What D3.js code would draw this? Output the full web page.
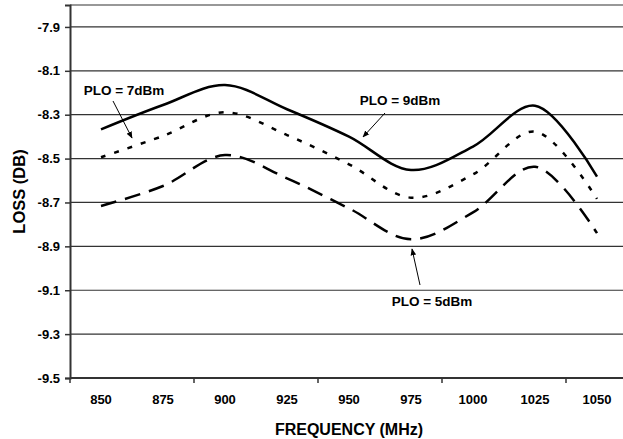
<!DOCTYPE html>
<html>
<head>
<meta charset="utf-8">
<script src="https://cdn.jsdelivr.net/npm/d3@7"></script>
<style>
  body { margin: 0; background: #fff; }
  svg { display: block; }
  text { font-family: "Liberation Sans", Arial, sans-serif; font-weight: bold; fill: #000; }
</style>
</head>
<body>
<div id="grafico"></div>
<script>
// frecuencias (MHz) y pérdidas (dB)
const frecuencias = [850, 875, 900, 925, 950, 975, 1000, 1025, 1050];
const plo9 = [-8.367, -8.256, -8.165, -8.275, -8.40, -8.552, -8.445, -8.259, -8.582];
const plo7 = [-8.494, -8.397, -8.289, -8.393, -8.526, -8.678, -8.572, -8.377, -8.684];
const plo5 = [-8.716, -8.625, -8.484, -8.590, -8.727, -8.868, -8.745, -8.537, -8.840];
const ticksY = [-9.5, -9.3, -9.1, -8.9, -8.7, -8.5, -8.3, -8.1, -7.9];

const ancho = 623, alto = 439;
const izq = 70, der = 628, arriba = 5, abajo = 378;

const $svg = d3.select("#grafico")
    .append("svg")
    .attr("width", ancho)
    .attr("height", alto);

const x = d3.scaleBand()
    .domain(frecuencias)
    .range([izq, der]);
const xIndice = d3.scaleLinear()
    .domain([0, frecuencias.length])
    .range([izq, der]);
const y = d3.scaleLinear()
    .domain([-9.5, -7.8])
    .range([abajo, arriba]);
const centro = f => x(f) + x.bandwidth() / 2;

// rejilla horizontal (incluye el borde superior)
$svg.append("g")
    .selectAll("line")
    .data(ticksY.concat([-7.8]))
    .join("line")
    .attr("x1", izq)
    .attr("x2", der)
    .attr("y1", d => y(d))
    .attr("y2", d => y(d))
    .attr("stroke", "#333")
    .attr("stroke-width", 1.2);

// eje Y
const ejeY = $svg.append("g")
    .attr("transform", `translate(${izq},0)`)
    .call(d3.axisLeft(y).tickValues(ticksY).tickSize(5).tickPadding(5).tickFormat(d => d.toFixed(1)));
ejeY.select(".domain").attr("stroke", "#333").attr("stroke-width", 2);
ejeY.selectAll(".tick line").attr("stroke", "#333").attr("stroke-width", 1.5);
ejeY.selectAll("text").attr("font-size", 13).style("font-family", "Liberation Sans, Arial, sans-serif").style("font-weight", "bold");

// eje X: etiquetas por categoría, marcas cada dos categorías
const ejeX = $svg.append("g")
    .attr("transform", `translate(0,${abajo})`)
    .call(d3.axisBottom(x).tickSize(0).tickPadding(17));
ejeX.select(".domain").remove();
ejeX.selectAll("text").attr("font-size", 13).style("font-family", "Liberation Sans, Arial, sans-serif").style("font-weight", "bold");

$svg.append("line")
    .attr("x1", izq).attr("x2", der)
    .attr("y1", abajo).attr("y2", abajo)
    .attr("stroke", "#333").attr("stroke-width", 2);
$svg.append("g")
    .selectAll("line")
    .data([0, 2, 4, 6, 8])
    .join("line")
    .attr("x1", d => xIndice(d))
    .attr("x2", d => xIndice(d))
    .attr("y1", abajo)
    .attr("y2", abajo + 5)
    .attr("stroke", "#333")
    .attr("stroke-width", 1.5);

// curvas suavizadas
const linea = d3.line()
    .x((d, i) => centro(frecuencias[i]))
    .y(d => y(d))
    .curve(d3.curveCatmullRom.alpha(0.5));

const series = [
    { valores: plo9, guiones: null },
    { valores: plo7, guiones: "5,9" },
    { valores: plo5, guiones: "16,9" }
];
series.forEach(s => {
    $svg.append("path")
        .attr("d", linea(s.valores))
        .attr("fill", "none")
        .attr("stroke", "#000")
        .attr("stroke-width", 2.5)
        .attr("stroke-dasharray", s.guiones);
});

// flechas y etiquetas
$svg.append("defs")
    .append("marker")
    .attr("id", "punta")
    .attr("viewBox", "0 0 10 10")
    .attr("refX", 9)
    .attr("refY", 5)
    .attr("markerWidth", 7)
    .attr("markerHeight", 7)
    .attr("markerUnits", "userSpaceOnUse")
    .attr("orient", "auto")
    .append("path")
    .attr("d", "M0,1 L10,5 L0,9 Z")
    .attr("fill", "#000");

const notas = [
    { texto: "PLO = 7dBm", tx: 124, ty: 95, x1: 113, y1: 101, x2: 132, y2: 138 },
    { texto: "PLO = 9dBm", tx: 400, ty: 105, x1: 385, y1: 113, x2: 363, y2: 137 },
    { texto: "PLO = 5dBm", tx: 432, ty: 306, x1: 420, y1: 285, x2: 412, y2: 249 }
];
notas.forEach(n => {
    $svg.append("line")
        .attr("x1", n.x1).attr("y1", n.y1)
        .attr("x2", n.x2).attr("y2", n.y2)
        .attr("stroke", "#000")
        .attr("stroke-width", 1)
        .attr("marker-end", "url(#punta)");
    $svg.append("text")
        .attr("x", n.tx)
        .attr("y", n.ty)
        .attr("font-size", 13.5)
        .attr("text-anchor", "middle")
        .text(n.texto);
});

// títulos de los ejes
$svg.append("text")
    .attr("x", (izq + der) / 2)
    .attr("y", 435)
    .attr("font-size", 16)
    .attr("text-anchor", "middle")
    .text("FREQUENCY (MHz)");
$svg.append("text")
    .attr("transform", `translate(25,${(arriba + abajo) / 2}) rotate(-90)`)
    .attr("font-size", 16.5)
    .attr("text-anchor", "middle")
    .text("LOSS (DB)");
</script>
</body>
</html>
